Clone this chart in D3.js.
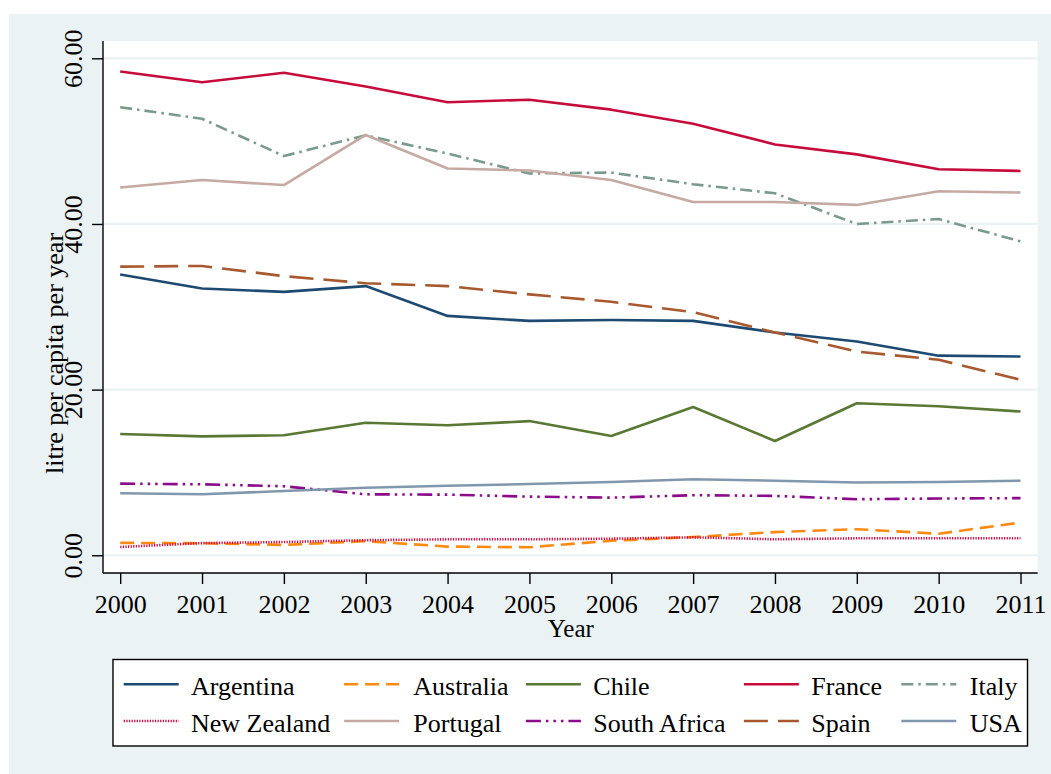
<!DOCTYPE html>
<html>
<head>
<meta charset="utf-8">
<script src="https://cdn.jsdelivr.net/npm/d3@7"></script>
<style>
  html, body { margin: 0; padding: 0; background: #ffffff; }
  svg { display: block; font-family: "Liberation Serif", "Times New Roman", serif; }
</style>
</head>
<body>
<svg id="chart" width="1051" height="774"></svg>
<script>
// Wine consumption, litres per capita per year, 2000-2011
const years = [2000, 2001, 2002, 2003, 2004, 2005, 2006, 2007, 2008, 2009, 2010, 2011];

const argentina   = [33.9, 32.2, 31.8, 32.5, 28.9, 28.3, 28.4, 28.3, 26.9, 25.8, 24.1, 24.0];
const australia   = [1.5, 1.45, 1.25, 1.7, 1.05, 0.97, 1.75, 2.2, 2.8, 3.15, 2.6, 3.95];
const chile       = [14.65, 14.35, 14.5, 16.0, 15.7, 16.2, 14.4, 17.9, 13.8, 18.35, 18.0, 17.35];
const france      = [58.4, 57.1, 58.25, 56.6, 54.7, 55.0, 53.8, 52.1, 49.6, 48.4, 46.6, 46.4];
const italy       = [54.1, 52.7, 48.2, 50.7, 48.5, 46.1, 46.2, 44.8, 43.7, 40.0, 40.6, 37.9];
const newZealand  = [1.0, 1.47, 1.6, 1.82, 1.93, 1.93, 2.0, 2.17, 1.93, 2.05, 2.05, 2.05];
const portugal    = [44.4, 45.3, 44.7, 50.75, 46.7, 46.45, 45.3, 42.65, 42.65, 42.3, 43.95, 43.8];
const southAfrica = [8.65, 8.57, 8.33, 7.36, 7.32, 7.08, 6.96, 7.25, 7.17, 6.77, 6.85, 6.9];
const spain       = [34.85, 34.93, 33.7, 32.85, 32.5, 31.5, 30.6, 29.35, 26.9, 24.6, 23.6, 21.2];
const usa         = [7.49, 7.36, 7.76, 8.16, 8.4, 8.6, 8.85, 9.18, 9.0, 8.78, 8.85, 9.0];

const countries = ["Argentina", "Australia", "Chile", "France", "Italy",
                   "New Zealand", "Portugal", "South Africa", "Spain", "USA"];
const seriesValues = [argentina, australia, chile, france, italy,
                      newZealand, portugal, southAfrica, spain, usa];

const yTickValues = [0, 20, 40, 60];
const yTickLabels = ["0.00", "20.00", "40.00", "60.00"];
const xTickValues = years;

// line styling per country
const styles = {
  "Argentina":    { color: "#1d4a72", dash: null },
  "Australia":    { color: "#ff8a12", dash: "14,7" },
  "Chile":        { color: "#597834", dash: null },
  "France":       { color: "#c60c3d", dash: null },
  "Italy":        { color: "#7a9a8d", dash: "12,5,2.5,5" },
  "New Zealand":  { color: "#cc1246", dash: "1.3,1.3" },
  "Portugal":     { color: "#c5aaa4", dash: null },
  "South Africa": { color: "#8b0b8b", dash: "15,5,2.5,5,2.5,5,2.5,5" },
  "Spain":        { color: "#a8592f", dash: "24,10" },
  "USA":          { color: "#8197ad", dash: null }
};

const svg = d3.select("#chart");
const W = 1051, H = 774;

// page background
svg.append("rect").attr("x", 9).attr("y", 14).attr("width", W - 9).attr("height", H - 14)
  .attr("fill", "#eaf2f3");

// plot region
const plot = { left: 103, right: 1037.7, top: 41, bottom: 573 };
svg.append("rect").attr("x", plot.left).attr("y", plot.top)
  .attr("width", plot.right - plot.left).attr("height", plot.bottom - plot.top)
  .attr("fill", "#ffffff");

const x = d3.scaleLinear().domain([1999.79, 2011.21]).range([plot.left, plot.right]);
const y = d3.scaleLinear().domain([-2.14, 62.09]).range([plot.bottom, plot.top]);

// horizontal grid lines
svg.append("g").selectAll("line").data(yTickValues).join("line")
  .attr("x1", plot.left).attr("x2", plot.right)
  .attr("y1", d => y(d)).attr("y2", d => y(d))
  .attr("stroke", "#eaf2f3").attr("stroke-width", 2.2);

// series lines
const line = d3.line().x((d, i) => x(years[i])).y(d => y(d));
const linesG = svg.append("g");
countries.forEach((c, k) => {
  const st = styles[c];
  linesG.append("path")
    .datum(seriesValues[k])
    .attr("d", line)
    .attr("fill", "none")
    .attr("stroke", st.color)
    .attr("stroke-width", 2.6)
    .attr("stroke-linejoin", "round")
    .attr("stroke-dasharray", st.dash);
});

// y axis
const yAxis = d3.axisLeft(y).tickValues(yTickValues)
  .tickFormat((d, i) => yTickLabels[i]).tickSize(11).tickPadding(0);
const yg = svg.append("g").attr("transform", `translate(${plot.left},0)`).call(yAxis);
yg.select(".domain").attr("d", `M0,${plot.top}V${plot.bottom}`)
  .attr("stroke", "#000").attr("stroke-width", 1.4);
yg.selectAll(".tick line").attr("stroke", "#000").attr("stroke-width", 1.4);
yg.selectAll(".tick text")
  .attr("x", null).attr("dy", null)
  .attr("transform", "translate(-21.3,0) rotate(-90)")
  .attr("text-anchor", "middle")
  .attr("font-size", 26).attr("fill", "#000")
  .attr("font-family", "Liberation Serif");

// x axis
const xAxis = d3.axisBottom(x).tickValues(xTickValues).tickFormat(d3.format("d"))
  .tickSize(11).tickPadding(0);
const xg = svg.append("g").attr("transform", `translate(0,${plot.bottom})`).call(xAxis);
xg.select(".domain").attr("d", `M${plot.left},0H${plot.right}`)
  .attr("stroke", "#000").attr("stroke-width", 1.4);
xg.selectAll(".tick line").attr("stroke", "#000").attr("stroke-width", 1.4);
xg.selectAll(".tick text")
  .attr("y", 40.3).attr("dy", null)
  .attr("font-size", 26).attr("fill", "#000")
  .attr("font-family", "Liberation Serif");

// axis titles
svg.append("text")
  .attr("transform", "translate(63,353.5) rotate(-90)")
  .attr("text-anchor", "middle").attr("font-size", 26).attr("fill", "#000")
  .text("litre per capita per year");
svg.append("text")
  .attr("x", 570.8).attr("y", 637.3)
  .attr("text-anchor", "middle").attr("font-size", 25).attr("fill", "#000")
  .text("Year");

// legend
svg.append("rect").attr("x", 113).attr("y", 659.5).attr("width", 914.5).attr("height", 86.5)
  .attr("fill", "#ffffff").attr("stroke", "#000").attr("stroke-width", 1.4);
const legCols = [
  { lx: 123.7, tx: 191 },
  { lx: 344.1, tx: 413.3 },
  { lx: 525.9, tx: 593.3 },
  { lx: 743.9, tx: 811.3 },
  { lx: 901.3, tx: 969.8 }
];
const legRows = [{ ly: 684.3, ty: 695 }, { ly: 721, ty: 731.7 }];
const legend = svg.append("g");
countries.forEach((c, k) => {
  const col = legCols[k % 5], row = legRows[Math.floor(k / 5)];
  const st = styles[c];
  legend.append("line")
    .attr("x1", col.lx).attr("x2", col.lx + 55)
    .attr("y1", row.ly).attr("y2", row.ly)
    .attr("stroke", st.color).attr("stroke-width", 2.6)
    .attr("stroke-dasharray", st.dash);
  legend.append("text")
    .attr("x", col.tx).attr("y", row.ty)
    .attr("font-size", 26).attr("fill", "#000")
    .text(c);
});
</script>
</body>
</html>
